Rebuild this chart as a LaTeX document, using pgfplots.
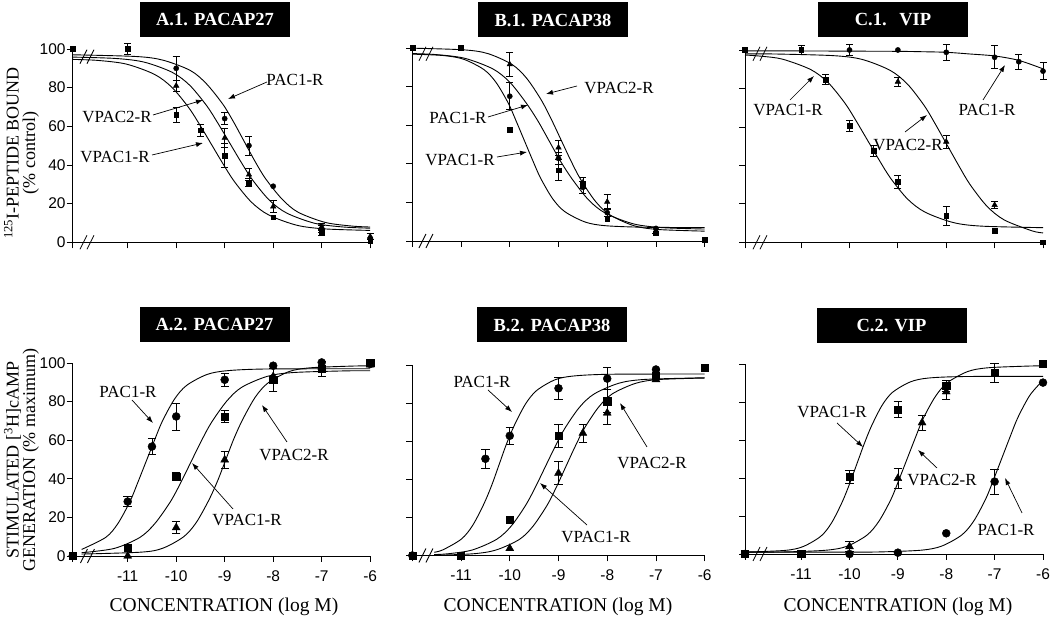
\documentclass[border=0pt]{standalone}
\usepackage{fontspec}
\setmainfont{Liberation Serif}
\setsansfont{Liberation Sans}
\usepackage{pgfplots}
\pgfplotsset{compat=1.18}
\usetikzlibrary{arrows.meta}

\pgfplotsset{
  panel/.style={
    scale only axis, anchor=south west,
    axis x line*=bottom, axis y line*=left,
    axis line style={-, line width=0.8pt},
    tick align=outside, major tick length=6pt,
    tick style={black, line width=0.8pt},
    xmax=-6, ymin=0, ymax=100, ytick={0,20,40,60,80,100},
    enlargelimits=false, clip=false,
    ticklabel style={font=\fontsize{15.5}{16}\selectfont\sffamily},
    yticklabel style={inner xsep=1pt},
    xticklabel style={yshift=-5pt},
  },
  curve/.style={smooth, no marks, black, line width=0.9pt},
  sqT/.style={only marks, black, mark=square*, mark size=2.4pt, mark options={line width=0.4pt}},
  ciT/.style={only marks, black, mark=*, mark size=2.6pt, mark options={line width=0.4pt}},
  trT/.style={only marks, black, mark=triangle*, mark size=3.2pt, mark options={line width=0.4pt}},
  sqB/.style={only marks, black, mark=square*, mark size=3.6pt, mark options={line width=0.4pt}},
  ciB/.style={only marks, black, mark=*, mark size=4pt, mark options={line width=0.4pt}},
  trB/.style={only marks, black, mark=triangle*, mark size=4.6pt, mark options={line width=0.4pt}},
  errT/.style={error bars/y dir=both, error bars/y explicit,
    error bars/error bar style={line width=0.7pt},
    error bars/error mark options={rotate=90, mark size=3.5pt, line width=0.7pt}},
  errB/.style={error bars/y dir=both, error bars/y explicit,
    error bars/error bar style={line width=0.7pt},
    error bars/error mark options={rotate=90, mark size=4.2pt, line width=0.7pt}},
}

\newcommand{\brk}[2]{\draw[line width=0.8pt] (axis cs:#1,#2) ++(-7pt,-7pt) -- ++(7pt,14pt)
  (axis cs:#1,#2) ++(0pt,-7pt) -- ++(7pt,14pt);}

\tikzset{
  ttl/.style={fill=black, text=white, font=\bfseries\fontsize{18.5}{20}\selectfont,
    minimum width=150pt, minimum height=35pt, inner sep=0pt},
  ann/.style={font=\fontsize{17}{18}\selectfont, inner sep=0pt},
  arr/.style={-{Latex[length=7pt,width=5pt]}, line width=0.7pt},
  xl/.style={font=\fontsize{19.5}{20}\selectfont},
  yl/.style={font=\fontsize{18}{16.5}\selectfont, rotate=90, align=center},
}

\begin{document}
\begin{tikzpicture}
\useasboundingbox (0,0) rectangle (1050pt,620pt);

% ---------- A.1 ----------
\begin{axis}[panel, at={(72.7pt,377.7pt)}, width=297.5pt, height=193.3pt,
  xmin=-12.134, xtick={-12.134,-11,-10,-9,-8,-7,-6}, xticklabels={},
  yticklabels={0,20,40,60,80,100}]
\addplot[curve] coordinates {(-12.13,94.6) (-11.62,94.1) (-11.03,92.2) (-10.45,86.9) (-10.09,80.2) (-9.74,69.6) (-9.51,60.6) (-9.27,50.5) (-9.03,40.4) (-8.80,31.4) (-8.45,20.8) (-8.09,14.1) (-7.51,8.8) (-6.92,6.9) (-6,6.15)};
\addplot[curve] coordinates {(-12.13,95.8) (-11.25,95.1) (-10.66,93.2) (-10.08,87.9) (-9.72,81.2) (-9.37,70.6) (-9.14,61.6) (-8.9,51.5) (-8.66,41.4) (-8.43,32.4) (-8.08,21.8) (-7.72,15.1) (-7.14,9.8) (-6.55,7.9) (-6,7.3)};
\addplot[curve] coordinates {(-12.13,97.0) (-10.82,96.1) (-10.27,94.2) (-9.71,88.9) (-9.38,82.1) (-9.04,71.5) (-8.82,62.4) (-8.6,52.25) (-8.38,42.1) (-8.16,33.0) (-7.82,22.4) (-7.49,15.6) (-6.93,10.3) (-6.38,8.4) (-6,7.9)};
\addplot[sqT, errT] coordinates {(-11,100) +- (0,3) (-10,66) +- (0,4) (-9.5,58) +- (0,3) (-9,45) +- (0,6) (-8.5,31) +- (0,2) (-7,5) +- (0,1.5)};
\addplot[sqT] coordinates {(-12.134,100) (-8,13) (-6,1)};
\addplot[ciT, errT] coordinates {(-10,90) +- (0,6) (-9,64) +- (0,3) (-8.5,50) +- (0,5) (-7,7) +- (0,2)};
\addplot[ciT] coordinates {(-8,29) (-6,2)};
\addplot[trT, errT] coordinates {(-10,81) +- (0,3) (-9,54) +- (0,5) (-8.5,35) +- (0,3) (-8,18.5) +- (0,3) (-7,8) +- (0,2) (-6,3) +- (0,1.5)};
\brk{-11.84}{0}
\brk{-11.84}{96}
\end{axis}

% ---------- B.1 ----------
\begin{axis}[panel, at={(412.3pt,379pt)}, width=292.4pt, height=193pt,
  xmin=-12, xtick={-12,-11,-10,-9,-8,-7,-6}, xticklabels={}, yticklabels={}]
\addplot[curve] coordinates {(-12,96.8) (-11.37,96.1) (-10.95,94.2) (-10.53,88.8) (-10.28,82.1) (-10.03,71.4) (-9.87,62.2) (-9.7,52) (-9.53,41.8) (-9.37,32.7) (-9.12,21.9) (-8.87,15.2) (-8.45,9.8) (-8.03,7.9) (-7.2,7.1) (-6,7.0)};
\addplot[curve] coordinates {(-12,97.1) (-11.52,96.6) (-10.93,94.7) (-10.35,89.2) (-10.0,82.3) (-9.66,71.4) (-9.42,62.1) (-9.19,51.75) (-8.96,41.4) (-8.72,32.1) (-8.38,21.2) (-8.03,14.3) (-7.45,8.8) (-6.86,6.9) (-6,6.2)};
\addplot[curve] coordinates {(-12,99.9) (-10.95,99.05) (-10.45,97.1) (-9.95,91.4) (-9.65,84.2) (-9.35,72.9) (-9.15,63.2) (-8.95,52.5) (-8.75,41.8) (-8.55,32.1) (-8.25,20.8) (-7.95,13.6) (-7.45,7.9) (-6.95,5.95) (-6,5.1)};
\addplot[sqT, errT] coordinates {(-9,36.7) +- (0,5.5)};
\addplot[sqT] coordinates {(-12,100) (-11,100) (-10,57.8) (-8.5,29) (-8,11.7) (-7,4) (-6,0.5)};
\addplot[ciT, errT] coordinates {(-10,75) +- (0,7) (-9,42.8) +- (0,3) (-8.5,27.8) +- (0,3) (-8,14.7) +- (0,2)};
\addplot[ciT] coordinates {(-7,6.5)};
\addplot[trT, errT] coordinates {(-10,91.5) +- (0,6) (-9,48.4) +- (0,4) (-8.5,30.2) +- (0,3) (-8,20.3) +- (0,4) (-7,5.5) +- (0,1.5)};
\brk{-11.72}{0}
\brk{-11.72}{97}
\end{axis}

% ---------- C.1 ----------
\begin{axis}[panel, at={(745pt,377.7pt)}, width=298pt, height=192.3pt,
  xmin=-12.16, xtick={-12.16,-11,-10,-9,-8,-7,-6}, xticklabels={}, yticklabels={}]
\addplot[curve] coordinates {(-12.16,97.4) (-11.8,96.7) (-11.38,95.2) (-10.80,89.8) (-10.44,83.0) (-10.09,72.2) (-9.86,63.0) (-9.62,52.75) (-9.38,42.5) (-9.15,33.3) (-8.80,22.5) (-8.44,15.7) (-7.86,10.3) (-7.27,8.4) (-6,7.6)};
\addplot[curve] coordinates {(-12.16,98.0) (-11.51,97.9) (-10.33,97.05) (-9.74,95.1) (-9.16,89.4) (-8.80,82.2) (-8.45,70.9) (-8.22,61.2) (-7.98,50.5) (-7.74,39.8) (-7.51,30.1) (-7.16,18.8) (-6.80,11.6) (-6.22,5.9) (-6,4.9)};
\addplot[curve] coordinates {(-12.16,99.5) (-11,99.5) (-10,99.4) (-9,99.3) (-8.5,99.1) (-8,98.8) (-7.5,97.9) (-7,96.9) (-6.5,94.6) (-6,90.2)};
\addplot[sqT, errT] coordinates {(-11,100) +- (0,2.5) (-10.5,84.7) +- (0,2.5) (-10,60.5) +- (0,3) (-9.5,47.5) +- (0,3) (-9,31.5) +- (0,3.5) (-8,13.7) +- (0,5)};
\addplot[sqT] coordinates {(-12.16,100) (-7,5.9) (-6,0)};
\addplot[ciT, errT] coordinates {(-10,100) +- (0,3) (-8,98.8) +- (0,4) (-7,96.2) +- (0,6) (-6.5,93.9) +- (0,4) (-6,89) +- (0,4.5)};
\addplot[ciT] coordinates {(-9,100)};
\addplot[trT, errT] coordinates {(-9,83.5) +- (0,2.5) (-8,52.3) +- (0,3.5) (-7,19.4) +- (0,2)};
\brk{-11.85}{0}
\brk{-11.85}{98}
\end{axis}

% ---------- A.2 ----------
\begin{axis}[panel, at={(72.7pt,64pt)}, width=297.5pt, height=193pt,
  xmin=-12.134, xtick={-12.134,-11,-10,-9,-8,-7,-6}, xticklabels={,-11,-10,-9,-8,-7,-6},
  yticklabels={0,20,40,60,80,100}]
\addplot[curve] coordinates {(-11.95,3.4) (-11.45,9.7) (-11.20,16.9) (-10.95,28.4) (-10.79,38.2) (-10.62,49) (-10.45,59.8) (-10.29,69.6) (-10.04,81.1) (-9.79,88.3) (-9.37,94.0) (-8.95,96.0) (-8.12,96.9) (-6,97)};
\addplot[curve] coordinates {(-11.95,1.7) (-11.28,3.9) (-10.75,9.6) (-10.44,16.8) (-10.12,28.1) (-9.91,37.8) (-9.7,48.5) (-9.49,59.2) (-9.28,68.9) (-8.96,80.2) (-8.65,87.4) (-8.12,93.1) (-7.59,95.05) (-6.54,95.9) (-6,96)};
\addplot[curve] coordinates {(-11.95,1.0) (-10.72,2.0) (-10.28,4.0) (-9.85,9.9) (-9.59,17.2) (-9.33,28.8) (-9.15,38.7) (-8.98,49.75) (-8.81,60.8) (-8.63,70.7) (-8.37,82.3) (-8.11,89.6) (-7.68,95.5) (-7.24,97.5) (-6.37,98.4) (-6,98.5)};
\addplot[ciB, errB] coordinates {(-11,28.2) +- (0,2.6) (-10.5,56.7) +- (0,4) (-10,72.3) +- (0,7) (-9,91.3) +- (0,3.5)};
\addplot[ciB] coordinates {(-12.134,0) (-8,98.6) (-7,100.3) (-6,99.5)};
\addplot[sqB, errB] coordinates {(-10,41.2) +- (0,2) (-9,72.3) +- (0,3.2) (-8,91.3) +- (0,6) (-7,97) +- (0,4)};
\addplot[sqB] coordinates {(-12.134,0) (-11,4.3) (-6,100)};
\addplot[trB, errB] coordinates {(-10,14.7) +- (0,3) (-9,49.8) +- (0,4.2)};
\addplot[trB] coordinates {(-11,0) (-8,93) (-7,98) (-6,99)};
\brk{-11.83}{0}
\end{axis}

% ---------- B.2 ----------
\begin{axis}[panel, at={(412.3pt,64.5pt)}, width=292.4pt, height=190pt,
  xmin=-12, xtick={-12,-11,-10,-9,-8,-7,-6}, xticklabels={,-11,-10,-9,-8,-7,-6}, yticklabels={}]
\addplot[curve] coordinates {(-11.55,1.7) (-11.37,3.0) (-10.99,8.7) (-10.76,15.9) (-10.53,27.2) (-10.37,37.0) (-10.22,47.75) (-10.07,58.5) (-9.91,68.3) (-9.68,79.6) (-9.45,86.8) (-9.07,92.5) (-8.68,94.5) (-7.91,95.4) (-6,95.5)};
\addplot[curve] coordinates {(-11.55,0.5) (-11.27,0.9) (-10.77,2.9) (-10.27,8.5) (-9.97,15.5) (-9.67,26.6) (-9.47,36.2) (-9.27,46.75) (-9.07,57.3) (-8.87,66.9) (-8.57,78.0) (-8.27,85.0) (-7.77,90.6) (-7.27,92.6) (-6.27,93.4) (-6,93.5)};
\addplot[curve] coordinates {(-11.55,0.1) (-10.75,0.9) (-10.28,2.9) (-9.80,8.5) (-9.52,15.5) (-9.23,26.6) (-9.04,36.2) (-8.85,46.75) (-8.66,57.3) (-8.47,66.9) (-8.18,78.0) (-7.90,85.0) (-7.42,90.6) (-6.95,92.6) (-6,93.4)};
\addplot[ciB, errB] coordinates {(-10.5,50.9) +- (0,4.8) (-10,63) +- (0,4.4) (-9,88) +- (0,5.7) (-8,93.1) +- (0,5.7)};
\addplot[ciB] coordinates {(-12,0) (-7,97.9)};
\addplot[sqB, errB] coordinates {(-9,63) +- (0,6) (-8,81.2) +- (0,6)};
\addplot[sqB] coordinates {(-12,0) (-11,0) (-10,18.7) (-7,94.7) (-6,99)};
\addplot[trB, errB] coordinates {(-9,43.3) +- (0,6) (-8.5,64.4) +- (0,4.6) (-8,75) +- (0,6)};
\addplot[trB] coordinates {(-10,3.7) (-7,92.6)};
\brk{-11.72}{0}
\end{axis}

% ---------- C.2 ----------
\begin{axis}[panel, at={(745pt,66pt)}, width=298pt, height=190pt,
  xmin=-12.16, xtick={-12.16,-11,-10,-9,-8,-7,-6}, xticklabels={,-11,-10,-9,-8,-7,-6}, yticklabels={}]
\addplot[curve] coordinates {(-12.16,1.0) (-11.33,1.9) (-10.96,3.9) (-10.59,9.4) (-10.37,16.4) (-10.15,27.4) (-10.0,36.8) (-9.85,47.25) (-9.70,57.7) (-9.55,67.1) (-9.33,78.1) (-9.11,85.1) (-8.74,90.6) (-8.37,92.6) (-7.63,93.4) (-6,93.5)};
\addplot[curve] coordinates {(-12.16,1.0) (-11.31,1.1) (-10.48,2.0) (-10.06,4.0) (-9.64,9.9) (-9.39,17.3) (-9.14,28.9) (-8.98,38.9) (-8.81,50) (-8.64,61.1) (-8.48,71.1) (-8.23,82.7) (-7.98,90.1) (-7.56,96.0) (-7.14,98.0) (-6.31,98.9) (-6,99)};
\addplot[curve] coordinates {(-12.16,1.0) (-11,1.0) (-10,1.0) (-9.35,1.1) (-8.52,2.0) (-8.10,4.1) (-7.68,10.0) (-7.43,17.4) (-7.18,29.2) (-7.02,39.3) (-6.85,50.5) (-6.68,61.7) (-6.52,71.8) (-6.27,83.6) (-6,91.4)};
\addplot[sqB, errB] coordinates {(-10,40.7) +- (0,3.5) (-9,76.1) +- (0,4) (-8,88.4) +- (0,3) (-7,95.4) +- (0,5)};
\addplot[sqB] coordinates {(-12.16,0) (-11,0) (-6,100)};
\addplot[trB, errB] coordinates {(-10,3.9) +- (0,2.5) (-9,39.8) +- (0,5.5) (-8.5,69.1) +- (0,4) (-8,85.4) +- (0,4)};
\addplot[ciB, errB] coordinates {(-7,38.1) +- (0,6.5)};
\addplot[ciB] coordinates {(-12.16,0) (-10,0) (-9,0.7) (-8,10.9) (-6,90.2)};
\brk{-11.85}{0}
\end{axis}

% ---------- titles ----------
\node[ttl] at (215pt,600pt) {A.1. PACAP27};
\node[ttl] at (553pt,600pt) {B.1. PACAP38};
\node[ttl] at (893pt,600pt) {C.1.\hspace{0.35em} VIP};
\node[ttl] at (214.5pt,295pt) {A.2. PACAP27};
\node[ttl] at (552pt,295pt) {B.2. PACAP38};
\node[ttl] at (891.5pt,294pt) {C.2. VIP};

% ---------- axis labels ----------
\node[yl] at (21.5pt,467pt) {\textsuperscript{125}I-PEPTIDE BOUND\\(\% control)};
\node[yl] at (21.5pt,160pt) {STIMULATED [\textsuperscript{3}H]cAMP\\GENERATION (\% maximum)};
\node[xl] at (224pt,13pt) {CONCENTRATION (log M)};
\node[xl] at (558pt,13pt) {CONCENTRATION (log M)};
\node[xl] at (898pt,13pt) {CONCENTRATION (log M)};

% ---------- annotations ----------
\node[ann] at (295pt,540pt) {PAC1-R};
\draw[arr] (267pt,538pt) -- (228pt,521pt);
\node[ann] at (117pt,503pt) {VPAC2-R};
\draw[arr] (153pt,505pt) -- (203pt,520pt);
\node[ann] at (115pt,463pt) {VPAC1-R};
\draw[arr] (152pt,465pt) -- (203pt,477pt);

\node[ann] at (619pt,532pt) {VPAC2-R};
\draw[arr] (577pt,534pt) -- (546pt,526pt);
\node[ann] at (458pt,502pt) {PAC1-R};
\draw[arr] (488pt,503pt) -- (528pt,515pt);
\node[ann] at (460pt,460pt) {VPAC1-R};
\draw[arr] (497pt,463pt) -- (527pt,468pt);

\node[ann] at (788pt,510pt) {VPAC1-R};
\draw[arr] (790pt,520pt) -- (814pt,544pt);
\node[ann] at (908pt,475pt) {VPAC2-R};
\draw[arr] (905pt,488pt) -- (927pt,505pt);
\node[ann] at (987pt,510pt) {PAC1-R};
\draw[arr] (983pt,520pt) -- (1005pt,555pt);

\node[ann] at (128pt,228pt) {PAC1-R};
\draw[arr] (132pt,220pt) -- (153pt,197pt);
\node[ann] at (247pt,100pt) {VPAC1-R};
\draw[arr] (233pt,111pt) -- (192pt,157pt);
\node[ann] at (294pt,165pt) {VPAC2-R};
\draw[arr] (287pt,178pt) -- (262pt,215pt);

\node[ann] at (482pt,238pt) {PAC1-R};
\draw[arr] (488pt,230pt) -- (512pt,208pt);
\node[ann] at (596pt,83pt) {VPAC1-R};
\draw[arr] (587pt,95pt) -- (540pt,137pt);
\node[ann] at (652pt,157pt) {VPAC2-R};
\draw[arr] (647pt,173pt) -- (620pt,217pt);

\node[ann] at (832pt,208pt) {VPAC1-R};
\draw[arr] (837pt,197pt) -- (863pt,173pt);
\node[ann] at (942pt,140pt) {VPAC2-R};
\draw[arr] (937pt,152pt) -- (918pt,170pt);
\node[ann] at (1006pt,90pt) {PAC1-R};
\draw[arr] (1022pt,107pt) -- (1005pt,142pt);
\end{tikzpicture}
\end{document}
